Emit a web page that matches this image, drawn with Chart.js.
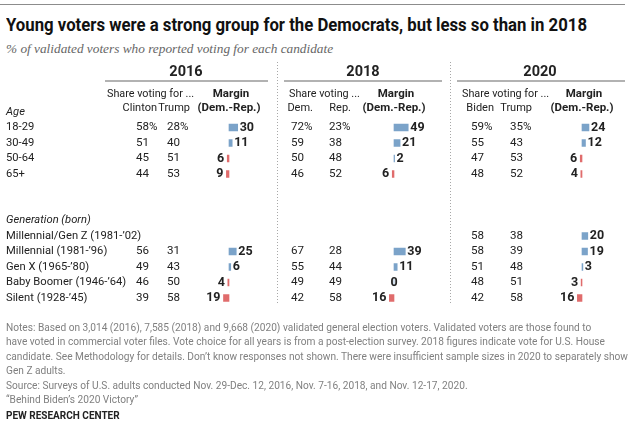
<!DOCTYPE html>
<html><head><meta charset="utf-8">
<script src="https://cdn.jsdelivr.net/npm/chart.js@4"></script>
<style>
html,body{margin:0;padding:0;background:#fff;}
body{width:638px;height:431px;position:relative;overflow:hidden;font-family:Roboto,"Liberation Sans",sans-serif;}
#c{position:absolute;left:0;top:0;}
.rule{position:absolute;left:0;top:4px;width:625px;height:0;border-top:1.5px solid #8c8c8c;}
#title{position:absolute;left:6px;top:15px;font-weight:bold;font-size:17.5px;color:#111;white-space:nowrap;transform-origin:0 0;}
#sub{position:absolute;left:6px;top:41px;font-family:"Liberation Serif",serif;font-style:italic;font-size:13.3px;color:#666;white-space:nowrap;}
#notes{position:absolute;left:6px;top:321px;font-size:10.5px;line-height:14.4px;color:#808080;white-space:nowrap;transform-origin:0 0;}
#pew{position:absolute;left:6px;top:410px;font-size:10px;font-weight:bold;color:#222;}
</style></head>
<body>
<div class="rule"></div>
<div id="title">Young voters were a strong group for the Democrats, but less so than in 2018</div>
<div id="sub">% of validated voters who reported voting for each candidate</div>
<canvas id="c" width="638" height="431"></canvas>
<div id="notes">Notes: Based on 3,014 (2016), 7,585 (2018) and 9,668 (2020) validated general election voters. Validated voters are those found to<br>have voted in commercial voter files. Vote choice for all years is from a post-election survey. 2018 figures indicate vote for U.S. House<br>candidate. See Methodology for details. Don’t know responses not shown. There were insufficient sample sizes in 2020 to separately show<br>Gen Z adults.<br>Source: Surveys of U.S. adults conducted Nov. 29-Dec. 12, 2016, Nov. 7-16, 2018, and Nov. 12-17, 2020.<br>“Behind Biden’s 2020 Victory”</div>
<div id="pew">PEW RESEARCH CENTER</div>
<script>
// ---- data ----
const rows = ["Age","18-29","30-49","50-64","65+","","","Generation (born)","Millennial/Gen Z (1981-’02)","Millennial (1981-’96)","Gen X (1965-’80)","Baby Boomer (1946-’64)","Silent (1928-’45)"];
const headerRows = ["Age","Generation (born)"];
const years = ["2016","2018","2020"];
const shareLabels = ["Share voting for ...","Share voting ...","Share voting for ..."];
const demNames = ["Clinton","Dem.","Biden"];
const repNames = ["Trump","Rep.","Trump"];
const dem2016 = [null,58,51,45,44,null,null,null,null,56,49,46,39];
const rep2016 = [null,28,40,51,53,null,null,null,null,31,43,50,58];
const margin2016 = [null,30,11,-6,-9,null,null,null,null,25,6,-4,-19];
const dem2018 = [null,72,59,50,46,null,null,null,null,67,55,49,42];
const rep2018 = [null,23,38,48,52,null,null,null,null,28,44,49,58];
const margin2018 = [null,49,21,2,-6,null,null,null,null,39,11,0,-16];
const dem2020 = [null,59,55,47,48,null,null,null,58,58,51,48,42];
const rep2020 = [null,35,43,53,52,null,null,null,38,39,48,51,58];
const margin2020 = [null,24,12,-6,-4,null,null,null,20,19,3,-3,-16];

// ---- layout ----
const W = 638;
const pxPerUnit = 0.29;
const zeroX = [229, 394, 582];
const demX = [136, 291, 471];
const repX = [167, 329, 510];
const demRight = [157, 313, 494];
const repRight = [190, 351, 532];
const shareX = [107, 289, 462];
const yearCX = [186, 363, 540];
const lineSpan = [[105,268],[284,442],[457,625]];
const seps = [277.5, 450.5];
const BLUE = '#7ba3c9', RED = '#e06c6c', TXT = '#222';
const FONT = 'Roboto, "Liberation Sans", sans-serif';

const demVals = [dem2016, dem2018, dem2020];
const repVals = [rep2016, rep2018, rep2020];
const margins = [margin2016, margin2018, margin2020];
const axisIds = ['x2016','x2018','x2020'];

const scales = { y: { type:'category', display:false, offset:true } };
axisIds.forEach((id,k)=>{
  scales[id] = { type:'linear', display:false, min: -zeroX[k]/pxPerUnit, max:(W-zeroX[k])/pxPerUnit };
});

const datasets = margins.map((m,k)=>({
  label: years[k],
  data: m,
  xAxisID: axisIds[k],
  yAxisID: 'y',
  grouped: false,
  barThickness: 7,
  backgroundColor: m.map(v => v !== null && v < 0 ? RED : BLUE),
  borderWidth: 0
}));

const tablePlugin = {
  id: 'table',
  afterDatasetsDraw(chart){
    const ctx = chart.ctx, ys = chart.scales.y;
    ctx.save();
    ctx.strokeStyle = '#a8a8a8'; ctx.lineWidth = 1; ctx.setLineDash([1,2]);
    seps.forEach(x=>{ ctx.beginPath(); ctx.moveTo(x,62); ctx.lineTo(x,304); ctx.stroke(); });
    ctx.setLineDash([]);
    ctx.strokeStyle = '#999'; ctx.lineWidth = 1.5;
    lineSpan.forEach(s=>{ ctx.beginPath(); ctx.moveTo(s[0],81); ctx.lineTo(s[1],81); ctx.stroke(); });
    ctx.textBaseline = 'middle';
    ctx.fillStyle = TXT;
    years.forEach((yr,k)=>{
      ctx.font = 'bold 14.5px ' + FONT; ctx.textAlign = 'center';
      ctx.fillText(yr, yearCX[k], 72);
      ctx.font = '10.8px ' + FONT; ctx.textAlign = 'left';
      ctx.fillText(shareLabels[k], shareX[k], 94);
      const zx = chart.scales[axisIds[k]].getPixelForValue(0);
      ctx.font = 'bold 11.5px ' + FONT; ctx.textAlign = 'center';
      ctx.fillText('Margin', zx + 2, 94);
      ctx.fillText('(Dem.-Rep.)', zx, 108);
      ctx.font = '11px ' + FONT; ctx.textAlign = 'right';
      ctx.fillText(demNames[k], demRight[k], 108);
      ctx.fillText(repNames[k], repRight[k], 108);
    });
    rows.forEach((r,i)=>{
      const y = ys.getPixelForValue(i);
      ctx.textAlign = 'left';
      ctx.font = (headerRows.includes(r) ? 'italic ' : '') + '11.2px ' + FONT;
      ctx.fillText(r, 6, y);
      for(let k=0;k<3;k++){
        const d = demVals[k][i], p = repVals[k][i], m = margins[k][i];
        const suffix = i === 1 ? '%' : '';
        ctx.font = '11.6px ' + FONT; ctx.textAlign = 'left';
        if(d !== null) ctx.fillText(d + suffix, demX[k], y);
        if(p !== null) ctx.fillText(p + suffix, repX[k], y);
        if(m !== null){
          const xs = chart.scales[axisIds[k]];
          const z = xs.getPixelForValue(0), e = xs.getPixelForValue(m);
          ctx.font = 'bold 12.5px ' + FONT;
          if(m > 0){ ctx.textAlign='left'; ctx.fillText(String(m), e + 2, y); }
          else if(m < 0){ ctx.textAlign='right'; ctx.fillText(String(-m), e - 3, y); }
          else { ctx.textAlign='center'; ctx.fillText('0', z, y); }
        }
      }
    });
    ctx.restore();
  }
};

new Chart(document.getElementById('c'), {
  type: 'bar',
  data: { labels: rows, datasets },
  options: {
    indexAxis: 'y',
    responsive: false,
    animation: false,
    layout: { padding: { top: 104.25, bottom: 125.25, left: 0, right: 0 } },
    scales,
    plugins: { legend:{display:false}, tooltip:{enabled:false}, title:{display:false} }
  },
  plugins: [tablePlugin]
});

const t = document.getElementById('title');
const tw = t.getBoundingClientRect().width;
t.style.transform = 'scaleX(' + (581/tw) + ')';
const n = document.getElementById('notes');
const nw = n.getBoundingClientRect().width;
if (nw > 622) n.style.transform = 'scaleX(' + (622/nw) + ')';
</script>
</body></html>
